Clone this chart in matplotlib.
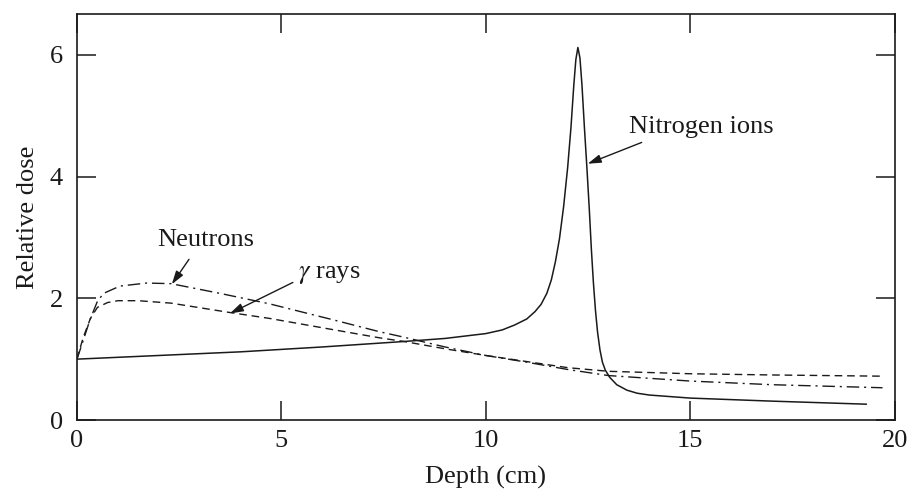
import matplotlib.pyplot as plt
import matplotlib as mpl

# depth (cm) / relative dose
nitrogen_depth = [0, 2, 4, 6, 8, 9, 10, 10.4, 10.7, 11.0, 11.2, 11.35, 11.49, 11.6, 11.7,
                  11.8, 11.9, 12.0, 12.08, 12.15, 12.2, 12.25, 12.3, 12.35, 12.41, 12.47,
                  12.53, 12.58, 12.63, 12.68, 12.73, 12.79, 12.85, 12.92, 13.03, 13.2,
                  13.45, 13.7, 14.0, 15, 17, 19.3]
nitrogen_dose = [1.00, 1.06, 1.12, 1.20, 1.29, 1.34, 1.42, 1.48, 1.56, 1.66, 1.78, 1.9,
                 2.08, 2.3, 2.6, 2.98, 3.5, 4.15, 4.8, 5.5, 5.92, 6.12, 5.95, 5.5, 4.8,
                 4.15, 3.45, 2.8, 2.25, 1.8, 1.45, 1.15, 0.95, 0.82, 0.7, 0.58, 0.49,
                 0.44, 0.41, 0.36, 0.31, 0.26]

neutron_depth = [0, 0.15, 0.32, 0.5, 0.65, 1.05, 1.7, 2.3, 3.5, 4.7, 6.3, 7.4, 8.0, 9.0,
                 10, 11, 12, 13, 15, 17, 19.7]
neutron_dose = [1.0, 1.3, 1.65, 1.95, 2.08, 2.2, 2.25, 2.24, 2.08, 1.91, 1.64, 1.45, 1.36,
                1.20, 1.06, 0.95, 0.83, 0.73, 0.64, 0.58, 0.53]

gamma_depth = [0, 0.15, 0.33, 0.5, 0.75, 1.0, 1.5, 2.3, 3.7, 4.7, 6.3, 7.4, 8.0, 9.0,
               10, 11, 12, 13, 15, 17, 19.7]
gamma_dose = [1.0, 1.35, 1.67, 1.85, 1.93, 1.96, 1.96, 1.92, 1.77, 1.67, 1.48, 1.35, 1.29,
              1.17, 1.06, 0.96, 0.86, 0.80, 0.76, 0.74, 0.72]

x_ticks = [0, 5, 10, 15, 20]
y_ticks = [0, 2, 4, 6]

plt.rcParams['font.family'] = ['Liberation Serif', 'DejaVu Serif']
plt.rcParams['mathtext.fontset'] = 'stix'
plt.rcParams['lines.scale_dashes'] = False

ink = '#1a1a1a'
fig = plt.figure(figsize=(9.14, 4.96), dpi=100)
ax = fig.add_axes([0.0842, 0.1532, 0.8948, 0.8186])

ax.plot(nitrogen_depth, nitrogen_dose, color=ink, lw=1.1, solid_joinstyle='round')
ax.plot(neutron_depth, neutron_dose, color=ink, lw=1.0, dashes=(9, 3.5, 1.5, 3.5))
ax.plot(gamma_depth, gamma_dose, color=ink, lw=1.0, dashes=(5.5, 3.5))

ax.set_xlim(0, 20)
ax.set_ylim(0, 6.67)
ax.set_xticks(x_ticks)
ax.set_yticks(y_ticks)
ax.tick_params(direction='in', length=14, width=1.1, top=True, right=True,
               labelsize=19, colors=ink)
ax.tick_params(axis='x', pad=7)
ax.tick_params(axis='y', pad=10)
for sp in ax.spines.values():
    sp.set_linewidth(1.2)
    sp.set_color(ink)

ax.set_xlabel('Depth (cm)', fontsize=19, color=ink)
ax.set_ylabel('Relative dose', fontsize=19, color=ink)
ax.xaxis.set_label_coords(0.5, -0.112)
ax.yaxis.set_label_coords(-0.047, 0.5)

arrow = dict(arrowstyle='-|>,head_length=0.8,head_width=0.25', color=ink, lw=1.0,
             mutation_scale=10, shrinkA=0, shrinkB=0)
ax.annotate('', xy=(2.32, 2.23), xytext=(2.74, 2.64), arrowprops=arrow)
ax.annotate('', xy=(3.74, 1.75), xytext=(5.28, 2.26), arrowprops=arrow)
ax.annotate('', xy=(12.49, 4.21), xytext=(13.81, 4.56), arrowprops=arrow)
ax.text(3.15, 2.95, 'Neutrons', fontsize=19, ha='center', va='center', color=ink)
ax.text(6.16, 2.38, r'$\gamma$ rays', fontsize=19, ha='center', va='center', color=ink)
ax.text(15.26, 4.82, 'Nitrogen ions', fontsize=19, ha='center', va='center', color=ink)

plt.savefig('out.png', dpi=100)
